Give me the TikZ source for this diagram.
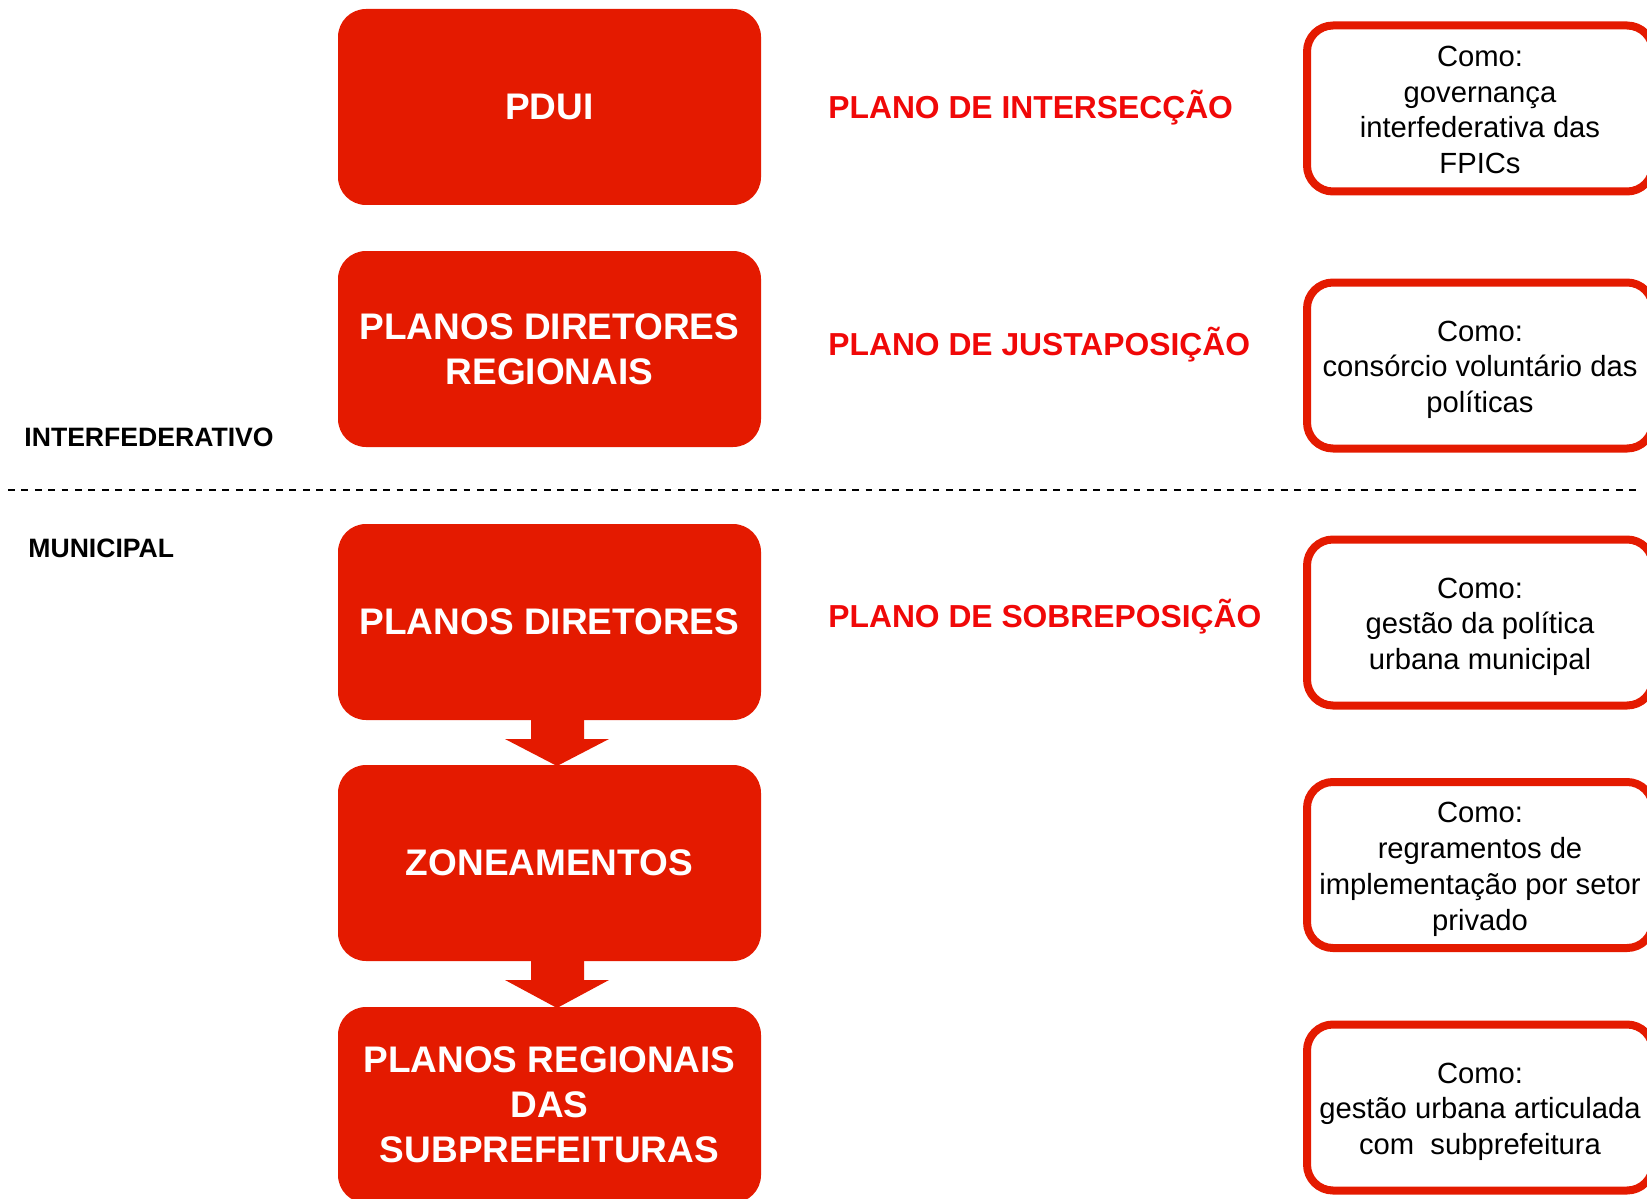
\documentclass[tikz,border=0pt]{standalone}
\usepackage{fontspec}
\setmainfont{Liberation Sans}
\usetikzlibrary{positioning,calc}
\definecolor{boxred}{RGB}{228,26,0}
\definecolor{labred}{RGB}{240,8,8}
\newcommand{\topo}{\rule{0pt}{14.5pt}}
\newcommand{\fundo}{\rule[-3pt]{0pt}{0pt}}

\begin{document}
\begin{tikzpicture}[x=0.5pt,y=-0.5pt,
  plano/.style={fill=boxred, rounded corners=14pt, minimum width=211.5pt, minimum height=98pt,
    inner sep=0pt, outer sep=0pt, text=white, align=center, font=\fontsize{18.5}{22.5}\selectfont\bfseries},
  como/.style={draw=boxred, line width=4pt, fill=white, rounded corners=13pt, minimum width=173pt,
    minimum height=83pt, inner sep=0pt, align=center, font=\fontsize{14.6}{17.85}\selectfont},
  tipo/.style={anchor=base west, inner sep=0pt, text=labred, font=\fontsize{15.9}{19}\selectfont\bfseries},
  nivel/.style={anchor=west, inner sep=0pt, font=\fontsize{13.3}{16}\selectfont\bfseries},
  node distance=22.5pt]

\useasboundingbox (0,0) rectangle (1647,1198);
\clip (0,0) rectangle (1647,1198);

% planos (esquerda)
\node[plano] (pdui) at (549.5,107) {PDUI};
\node[plano, below=23pt of pdui] (pdr) {PLANOS DIRETORES\\REGIONAIS};
\node[plano, below=38.5pt of pdr] (pd) {PLANOS DIRETORES};
\node[plano, below=of pd] (zon) {ZONEAMENTOS};
\node[plano, below=23pt of zon] (prs) {PLANOS REGIONAIS\\DAS\\SUBPREFEITURAS};

% setas
\foreach \a/\b in {pd/zon, zon/prs}
  \fill[boxred] ($(\a.south)+(-18.5,-1)$) -- ($(\a.south)+(34.5,-1)$) -- ($(\a.south)+(34.5,19)$)
    -- ($(\a.south)+(59.5,19)$) -- ($(\b.north)+(7.5,1)$) -- ($(\a.south)+(-44.5,19)$)
    -- ($(\a.south)+(-18.5,19)$) -- cycle;

% tipos de plano
\node[tipo] (inter) at (828,118.5) {PLANO DE INTERSECÇÃO};
\node[tipo] (justa) at (828,355) {PLANO DE JUSTAPOSIÇÃO};
\node[tipo] (sobre) at (828,627) {PLANO DE SOBREPOSIÇÃO};

% como
\node[como] (c1) at (1480,108.5) {\topo Como:\\governança\\interfederativa das\\FPICs\fundo};
\node[como] (c2) at (1480,365.5) {\topo Como:\\consórcio voluntário das\\políticas\fundo};
\node[como] (c3) at (1480,622.5) {\topo Como:\\gestão da política\\urbana municipal\fundo};
\node[como] (c4) at (1480,865) {\topo Como:\\regramentos de\\implementação por setor\\privado\fundo};
\node[como] (c5) at (1480,1107.5) {\topo Como:\\gestão urbana articulada\\com\ \ subprefeitura\fundo};

% niveis
\node[nivel] (interf) at (24,437) {INTERFEDERATIVO};
\node[nivel] (munic) at (28,548) {MUNICIPAL};
\coordinate (sepL) at (8,490);
\coordinate (sepR) at (1639,490);
\draw[line width=0.8pt, dash pattern=on 3.4pt off 3.3pt] (sepL) -- (sepR);

\end{tikzpicture}
\end{document}
